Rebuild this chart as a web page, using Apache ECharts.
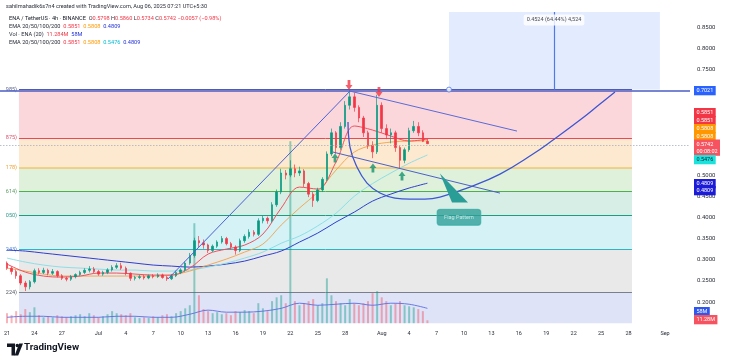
<!DOCTYPE html>
<html><head><meta charset="utf-8">
<script src="https://cdn.jsdelivr.net/npm/echarts@6/dist/echarts.min.js"></script>
<style>html,body{margin:0;padding:0;background:#fff}#c{width:730px;height:363px}</style>
</head><body><div id="c"></div>
<script>
// ---------------- DATA ----------------
const tickDays   = [0,3,6,10,13,16,19,22,25,28,31,34,37,41,44,47,50,53,56,59,62,65,68,72];
const tickLabels = ['21','24','27','Jul','4','7','10','13','16','19','22','25','28','Aug','4','7','10','13','16','19','22','25','28','Sep'];
const priceTicks = [0.20,0.25,0.30,0.35,0.40,0.45,0.50,0.55,0.60,0.65,0.70,0.75,0.80,0.85];

// 12h candles starting Jun 21 (day 0): [open, close, low, high]
const candleStartDay = 0, candleStepDays = 0.5;
const candles = [
[0.292,0.280,0.276,0.296],[0.280,0.272,0.265,0.284],[0.272,0.262,0.255,0.276],[0.262,0.245,0.240,0.266],
[0.245,0.236,0.226,0.250],[0.236,0.248,0.230,0.252],[0.248,0.274,0.244,0.279],[0.274,0.270,0.265,0.280],
[0.270,0.275,0.266,0.281],[0.275,0.268,0.263,0.279],[0.268,0.272,0.264,0.278],[0.272,0.262,0.258,0.275],
[0.262,0.256,0.252,0.266],[0.256,0.254,0.249,0.260],[0.254,0.260,0.250,0.264],[0.260,0.265,0.256,0.268],
[0.265,0.270,0.262,0.274],[0.270,0.275,0.266,0.280],[0.275,0.278,0.270,0.285],[0.278,0.272,0.268,0.283],
[0.272,0.266,0.262,0.276],[0.266,0.270,0.262,0.274],[0.270,0.276,0.266,0.280],[0.276,0.282,0.272,0.287],
[0.282,0.286,0.278,0.292],[0.286,0.280,0.276,0.293],[0.280,0.268,0.263,0.284],[0.268,0.256,0.250,0.270],
[0.256,0.258,0.251,0.262],[0.258,0.260,0.254,0.264],[0.260,0.257,0.253,0.264],[0.257,0.262,0.254,0.265],
[0.262,0.260,0.256,0.266],[0.260,0.264,0.257,0.268],[0.264,0.258,0.255,0.267],[0.258,0.255,0.250,0.262],
[0.255,0.262,0.252,0.266],[0.262,0.270,0.259,0.274],[0.270,0.276,0.266,0.280],[0.276,0.292,0.272,0.296],
[0.292,0.310,0.288,0.316],[0.310,0.345,0.305,0.352],[0.345,0.340,0.330,0.356],[0.340,0.335,0.326,0.348],
[0.335,0.322,0.316,0.338],[0.322,0.332,0.318,0.336],[0.332,0.342,0.328,0.346],[0.342,0.350,0.338,0.356],
[0.350,0.338,0.334,0.354],[0.338,0.330,0.324,0.342],[0.330,0.322,0.312,0.334],[0.322,0.345,0.318,0.350],
[0.345,0.355,0.340,0.360],[0.355,0.365,0.350,0.372],[0.365,0.360,0.355,0.370],[0.360,0.392,0.356,0.398],
[0.392,0.398,0.386,0.404],[0.398,0.392,0.385,0.402],[0.392,0.430,0.388,0.436],[0.430,0.460,0.425,0.466],
[0.460,0.505,0.455,0.515],[0.505,0.500,0.490,0.512],[0.500,0.515,0.495,0.535],[0.515,0.505,0.495,0.525],
[0.505,0.510,0.498,0.520],[0.510,0.480,0.472,0.514],[0.480,0.455,0.448,0.484],[0.455,0.440,0.425,0.460],
[0.440,0.465,0.436,0.470],[0.465,0.490,0.460,0.495],[0.490,0.550,0.486,0.556],[0.550,0.600,0.545,0.610],
[0.600,0.565,0.550,0.604],[0.565,0.615,0.560,0.625],[0.615,0.665,0.610,0.675],[0.665,0.685,0.655,0.702],
[0.685,0.660,0.650,0.695],[0.660,0.635,0.625,0.665],[0.635,0.600,0.590,0.640],[0.600,0.570,0.562,0.605],
[0.570,0.555,0.540,0.580],[0.555,0.665,0.550,0.690],[0.665,0.610,0.600,0.672],[0.610,0.595,0.585,0.620],
[0.595,0.600,0.575,0.610],[0.600,0.565,0.555,0.605],[0.565,0.535,0.515,0.570],[0.535,0.560,0.528,0.565],
[0.560,0.605,0.555,0.612],[0.605,0.615,0.600,0.628],[0.615,0.600,0.592,0.625],[0.600,0.5798,0.578,0.606],
[0.5798,0.5742,0.5734,0.5860]
];
// volume (millions) per candle
const volumes = [39,31,47,35,55,43,62,31,23,27,23,31,27,23,27,31,35,27,39,31,23,27,35,47,39,35,31,39,23,20,23,20,
27,23,31,35,27,39,47,58,70,390,109,55,47,39,43,35,39,31,47,43,51,47,39,78,58,47,86,101,109,78,710,86,70,78,86,94,
70,78,175,109,86,78,70,94,78,70,78,86,117,125,101,86,70,78,86,70,66,62,55,47,11.28];

const emaDays = [0,2,4,6,8,10,12,14,16,18,20,22,24,26,28,30,32,34,36,38,40,42,44,46];
const ema20  = [0.2897,0.2708,0.2614,0.2590,0.2614,0.2685,0.2685,0.2661,0.2637,0.2637,0.2803,0.3134,0.3252,0.3346,0.3606,0.4221,0.4717,0.4670,0.5308,0.6160,0.6065,0.5923,0.5805,0.5851];
const ema50  = [0.2803,0.2732,0.2661,0.2614,0.2614,0.2614,0.2614,0.2614,0.2614,0.2637,0.2732,0.2874,0.3015,0.3181,0.3370,0.3820,0.4221,0.4599,0.5119,0.5545,0.5710,0.5781,0.5805,0.5808];
const ema100 = [0.3039,0.2945,0.2874,0.2826,0.2803,0.2779,0.2756,0.2756,0.2732,0.2732,0.2756,0.2826,0.2921,0.3039,0.3181,0.3390,0.3560,0.3800,0.4100,0.4500,0.4800,0.5050,0.5280,0.5476];
const ema200 = [0.3228,0.3205,0.3157,0.3110,0.3063,0.3015,0.2968,0.2921,0.2874,0.2850,0.2826,0.2850,0.2897,0.2968,0.3086,0.3205,0.3417,0.3630,0.3890,0.4126,0.4386,0.4552,0.4694,0.4809];
const volMA  = [23,27,27,23,23,23,27,27,23,23,35,51,43,43,47,58,78,70,74,78,70,78,74,58];

const fibLevels = [0.7021,0.5875,0.5178,0.4614,0.4050,0.3243,0.2224];
const fibLabels = ['985)','875)','178)','614)','050)','243)','224)'];
const fibFromDay = 1.31, fibToDay = 68.38;
const keyLevel = 0.7021, lastPrice = 0.5742;

const risingLine = [[17.6,0.2543],[37.53,0.6986]];
const upperLine  = [[37.53,0.6986],[55.8,0.6041]];
const lowerLine  = [[35.67,0.5545],[53.94,0.4575]];
const cupDays   = [37.31,37.53,38.29,39.39,40.81,42.45,44.09,45.73,47.37,50.33,53.94,57.55,59.74,62.69,64.88,66.52];
const cupPrices = [0.6254,0.5663,0.5190,0.4812,0.4576,0.4458,0.4434,0.4434,0.4481,0.4694,0.5025,0.5498,0.5829,0.6301,0.6680,0.6963];
const sellArrows = [[37.42,0.7129],[40.70,0.6964]];
const buyArrows  = [[35.89,0.5403],[40.04,0.5167],[43.22,0.4977]];
const flagTail = [[47.37,0.5038],[48.69,0.4352],[50.44,0.4352]];
const flagLabelAt = [49.45,0.4003];
const flagText = 'Flag Pattern';
const measureDays = [48.36,71.44], measureMidDay = 59.85, measureLabelPrice = 0.8666;
const measureText = '0.4524 (64.44%) 4,524';

const headerLines = [
  'sahilmahadik6s7n4 created with TradingView.com, Aug 06, 2025 07:21 UTC+5:30',
  '{n|ENA / TetherUS · 4h · BINANCE}  O{r|0.5798} H{r|0.5860} L{r|0.5734} C{r|0.5742} {r|−0.0057 (−0.98%)}',
  'EMA 20/50/100/200  {r|0.5851}  {o|0.5808}  {b|0.4809}',
  'Vol · ENA (20)  {r|11.284M}  {b|58M}',
  'EMA 20/50/100/200  {r|0.5851}  {o|0.5808}  {c|0.5476}  {b|0.4809}'
];
const tagTexts = ['0.7021','0.5851','0.5851','0.5808','0.5808','0.5742\n00:08:02','0.5476','0.4809','0.4809','58M','11.28M'];

// ---------------- LAYOUT / STYLE ----------------
const FONT = 'Roboto, "Liberation Sans", sans-serif';
const X_MIN = -0.766, X_MAX = 74.73, Y_MIN = 0.15, Y_MAX = 0.8855, VOL_MAX = 1214;
const UP = '#089981', DOWN = '#f23645';
const fibLineColors = ['#4d5bb0','#e8485c','#f2c46a','#4caf50','#1e9c80','#2fb5c0','#7b7f8c'];
const fibFillColors = ['#fbd7dc','#fde9cf','#dff0db','#d6eee5','#d5f2f6','#e9e9ea','#dfe3f8'];
const fibLabelColors= ['#5d6590','#e0506a','#f0a030','#5a9a60','#2a9a8a','#3f7fd0','#55585f'];
const tagY  = [90,112,120,128,136,147,159,183,190,311,319];
const tagBg = ['#2962ff','#f23645','#f23645','#ff9800','#ff9800','#f7525f','#19e3dc','#1c1cd8','#1c1cd8','#3056f0','#f7525f'];
const tagFg = ['#fff','#fff','#fff','#fff','#fff','#fff','#102030','#fff','#fff','#fff','#fff'];

const times = candles.map((_, i) => candleStartDay + i * candleStepDays);
const candleData = candles.map((r, i) => [times[i], r[0], r[1], r[2], r[3]]);
const volData = volumes.map((v, i) => ({
  value: [times[i], v],
  itemStyle: { color: candles[i][1] >= candles[i][0] ? 'rgba(8,153,129,0.42)' : 'rgba(242,54,69,0.38)' }
}));
const pair = (xs, ys) => xs.map((x, i) => [x, ys[i]]);

const bandData = fibLevels.map((lv, i) => [
  { coord: [fibFromDay, lv], itemStyle: { color: fibFillColors[i] } },
  { coord: [fibToDay, i < fibLevels.length - 1 ? fibLevels[i + 1] : Y_MIN] }
]);
const fibLineData = fibLevels.map((lv, i) => [
  { coord: [fibFromDay, lv], lineStyle: { color: fibLineColors[i], width: i === 2 ? 1.6 : 1, type: 'solid' },
    label: { show: true, position: 'start', formatter: fibLabels[i], color: fibLabelColors[i], fontSize: 5.5, fontFamily: FONT, distance: 2 } },
  { coord: [fibToDay, lv] }
]);

const emaSeries = (name, arr, color, width, z) => ({
  name, type: 'line', data: pair(emaDays, arr), smooth: 0.35, symbol: 'none',
  lineStyle: { color, width }, z, silent: true
});
const trend = (pts, color, width) => ({
  type: 'line', data: pts, symbol: 'none', lineStyle: { color, width }, z: 6, silent: true
});

const headerGraphics = headerLines.map((t, i) => ({
  type: 'text', left: i === 0 ? 6 : 9, top: [3.5, 16, 24, 32, 40][i], z: 100, silent: true,
  style: {
    text: t, fontSize: 5.6, fontFamily: FONT, fill: '#2a2e39',
    rich: {
      n: { fill: '#131722', fontSize: 5.6, fontFamily: FONT },
      r: { fill: '#f23645', fontSize: 5.6, fontFamily: FONT },
      o: { fill: '#ff9800', fontSize: 5.6, fontFamily: FONT },
      b: { fill: '#2433d8', fontSize: 5.6, fontFamily: FONT },
      c: { fill: '#00bcd4', fontSize: 5.6, fontFamily: FONT }
    }
  }
}));
const tagGraphics = tagTexts.map((t, i) => {
  const lines = t.split('\n').length;
  return {
    type: 'text', left: 694, top: tagY[i] - (lines === 1 ? 4 : 7.5), z: 101, silent: true,
    style: { text: t, fill: tagFg[i], backgroundColor: tagBg[i], padding: [1.3, 2.4, 1, 2.4],
             fontSize: 5.5, lineHeight: 7, fontFamily: FONT }
  };
});
const logo = [
  { type: 'polygon', z: 100, shape: { points: [[7,343.5],[15,343.5],[15,355.5],[11.5,355.5],[11.5,347],[7,347]] }, style: { fill: '#131722' } },
  { type: 'circle', z: 100, shape: { cx: 17.3, cy: 345.5, r: 1.8 }, style: { fill: '#131722' } },
  { type: 'polygon', z: 100, shape: { points: [[19.2,343.5],[23,343.5],[18.2,355.5],[14.6,355.5]] }, style: { fill: '#131722' } },
  { type: 'text', left: 24, top: 343, z: 100, style: { text: 'TradingView', fontSize: 9.8, fontWeight: 'bold', fontFamily: FONT, fill: '#131722' } }
];

const option = {
  animation: false,
  backgroundColor: '#ffffff',
  grid: { left: 0, right: 40, top: 12, bottom: 39.8 },
  xAxis: {
    type: 'value', min: X_MIN, max: X_MAX,
    axisLine: { show: false }, axisTick: { show: false }, splitLine: { show: false },
    axisLabel: {
      customValues: tickDays,
      formatter: v => { const i = tickDays.indexOf(v); return i < 0 ? '' : tickLabels[i]; },
      fontSize: 5.5, color: '#2a2e39', margin: 7, fontFamily: FONT
    }
  },
  yAxis: [
    { type: 'value', position: 'right', min: Y_MIN, max: Y_MAX,
      axisLine: { show: false }, axisTick: { show: false }, splitLine: { show: false },
      axisLabel: { customValues: priceTicks, formatter: v => v.toFixed(4), fontSize: 6, color: '#2a2e39', margin: 7, fontFamily: FONT } },
    { type: 'value', min: 0, max: VOL_MAX, show: false }
  ],
  series: [
    { // fib zones
      type: 'line', data: [[fibFromDay, Y_MIN]], symbol: 'none', lineStyle: { opacity: 0 }, z: 1, silent: true,
      markArea: { silent: true, z: 1, data: bandData },
      markLine: { silent: true, z: 2, symbol: ['none', 'none'], lineStyle: { type: 'solid' }, data: fibLineData }
    },
    { // measure box, key level, price line
      type: 'line', data: [[measureDays[0], keyLevel]], symbol: 'none', lineStyle: { opacity: 0 }, z: 1, silent: true,
      markArea: { silent: true, z: 1, data: [[{ coord: [measureDays[0], keyLevel], itemStyle: { color: 'rgba(41,98,255,0.13)' } }, { coord: [measureDays[1], Y_MAX] }]] },
      markLine: { silent: true, z: 6, symbol: ['none', 'none'], label: { show: false }, lineStyle: { type: 'solid' },
        data: [
          { yAxis: keyLevel, lineStyle: { color: '#4b5cc4', width: 1.5, type: 'solid' } },
          { yAxis: lastPrice, lineStyle: { color: '#a9afc4', width: 0.8, type: [1.5, 1.5] } },
          [{ coord: [measureMidDay, keyLevel], lineStyle: { color: '#4f7ae6', width: 1.2, type: 'solid' } }, { coord: [measureMidDay, Y_MAX] }]
        ] }
    },
    { type: 'bar', xAxisIndex: 0, yAxisIndex: 1, data: volData, barWidth: 2, z: 3, silent: true },
    { type: 'line', xAxisIndex: 0, yAxisIndex: 1, data: pair(emaDays, volMA), smooth: 0.35, symbol: 'none',
      lineStyle: { color: '#5a6de0', width: 0.9 }, z: 3, silent: true },
    emaSeries('EMA200', ema200, '#2f3fcf', 1, 4),
    emaSeries('EMA100', ema100, '#8ddfe6', 1, 4),
    emaSeries('EMA50', ema50, '#f0a24a', 0.9, 4),
    emaSeries('EMA20', ema20, '#f0505f', 1, 4),
    { type: 'candlestick', data: candleData, barWidth: 2, z: 5, silent: true,
      itemStyle: { color: UP, color0: DOWN, borderColor: UP, borderColor0: DOWN, borderWidth: 0.7 } },
    trend(risingLine, '#4a62d8', 1),
    trend(upperLine, '#5a6ad8', 1),
    trend(lowerLine, '#4a62c8', 1),
    { type: 'line', data: pair(cupDays, cupPrices), smooth: 0.45, symbol: 'none',
      lineStyle: { color: '#3d56d2', width: 1.3 }, z: 6, silent: true },
    { type: 'custom', z: 7, silent: true, data: [flagTail[0]],
      renderItem: (params, api) => ({ type: 'polygon', shape: { points: flagTail.map(p => api.coord(p)) }, style: { fill: '#2b9d97' } }) },
    { type: 'scatter', data: [flagLabelAt], symbolSize: 0, z: 7, silent: true,
      label: { show: true, position: 'inside', formatter: flagText, color: '#dff7f4', fontSize: 5.5, fontFamily: FONT,
               backgroundColor: '#2f9f99', borderColor: '#5cc2bb', borderWidth: 0.6, padding: [5, 7], borderRadius: 3 } },
    { type: 'scatter', data: sellArrows, symbol: 'path://M3,0 L7,0 L7,6 L10,6 L5,12 L0,6 L3,6 Z', symbolSize: [7, 10],
      itemStyle: { color: '#f23645' }, z: 7, silent: true },
    { type: 'scatter', data: buyArrows, symbol: 'path://M5,0 L10,6 L7,6 L7,12 L3,12 L3,6 L0,6 Z', symbolSize: [7, 9],
      itemStyle: { color: '#14946f' }, z: 7, silent: true },
    { type: 'scatter', data: [[measureDays[0], keyLevel]], symbol: 'circle', symbolSize: 5,
      itemStyle: { color: '#ffffff', borderColor: '#4f7ae6', borderWidth: 1 }, z: 8, silent: true },
    { type: 'scatter', data: [[measureMidDay, measureLabelPrice]], symbolSize: 0, z: 8, silent: true,
      label: { show: true, position: 'inside', formatter: measureText, color: '#131722', fontSize: 5.5, fontFamily: FONT,
               backgroundColor: '#ffffff', padding: [2.5, 3], borderRadius: 2 } }
  ],
  graphic: [...headerGraphics, ...tagGraphics, ...logo]
};

const chart = echarts.init(document.getElementById('c'));
chart.setOption(option);
</script>
</body></html>
